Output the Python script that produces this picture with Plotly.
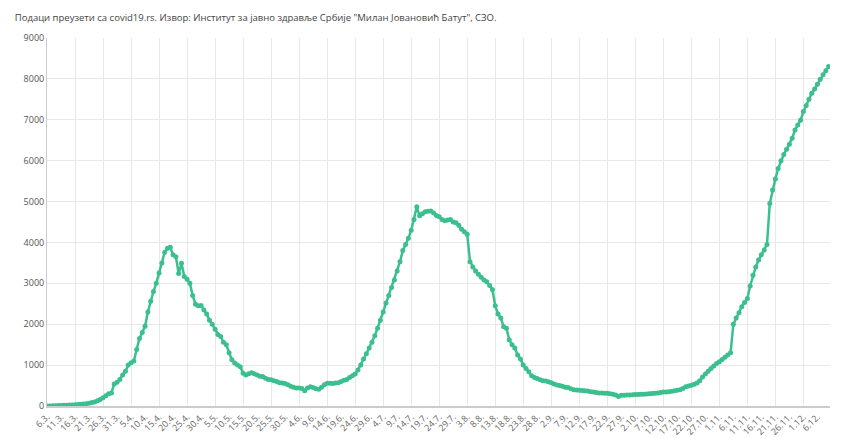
import plotly.graph_objects as go
import pandas as pd

start_date = "2020-03-06"
values = [
0,2,5,8,12,15,18,20,22,25,
30,35,40,48,55,70,85,100,130,160,
200,250,300,320,540,580,650,760,850,1000,
1060,1100,1380,1650,1800,1950,2300,2560,2800,3000,
3250,3500,3760,3860,3880,3700,3650,3240,3490,3170,
3100,3000,2700,2490,2450,2460,2350,2250,2100,2000,
1880,1750,1700,1560,1500,1300,1130,1050,1000,960,
800,760,790,815,790,760,730,720,680,650,
640,620,600,570,560,550,520,480,460,440,
440,430,370,440,470,450,420,410,460,520,
555,555,550,560,570,600,630,650,700,740,
780,880,1000,1150,1280,1420,1560,1720,1900,2100,
2300,2520,2700,2900,3080,3300,3530,3800,3950,4100,
4300,4560,4870,4650,4700,4750,4760,4770,4720,4660,
4630,4560,4530,4550,4560,4500,4480,4420,4320,4260,
4200,3530,3400,3300,3220,3150,3080,3040,2950,2850,
2450,2250,2150,1940,1900,1620,1500,1420,1250,1150,
1000,920,840,740,700,670,640,620,610,595,
570,540,515,500,480,460,450,420,400,390,
385,380,370,365,350,340,330,320,315,310,
310,300,290,270,230,260,265,270,270,275,
280,280,285,290,295,300,305,310,320,330,
340,345,350,360,375,385,400,430,470,490,
510,530,560,620,710,780,850,920,980,1040,
1080,1140,1190,1250,1300,2000,2150,2280,2430,2530,
2630,2935,3200,3400,3570,3700,3815,3950,4955,5280,
5550,5810,6000,6150,6280,6400,6550,6750,6870,6990,
7200,7350,7500,7650,7750,7870,7990,8100,8200,8300,
]
dates = pd.date_range(start_date, periods=len(values), freq="D")
labels = [f"{d.day}.{d.month}." for d in dates]
idx = list(range(len(values)))
tick_idx = idx[::5]
tick_text = [labels[i] for i in tick_idx]
grid_idx = idx[::10]

green = "#3cbf8f"
fig = go.Figure()
fig.add_trace(go.Scatter(x=idx, y=values, mode="lines+markers",
    line=dict(color=green, width=2.5), marker=dict(color=green, size=5),
    text=labels, hovertemplate="%{text}: %{y}<extra></extra>", showlegend=False))
fig.add_trace(go.Scatter(x=idx, y=values, xaxis="x2", mode="lines",
    line=dict(width=0), hoverinfo="skip", showlegend=False))

rng = [0, len(values) - 0.5]
fig.update_layout(
    width=850, height=438, margin=dict(l=39, r=28, t=30, b=40),
    paper_bgcolor="white", plot_bgcolor="white",
    font=dict(family="Open Sans, sans-serif", color="#555"),
    title=dict(text="Подаци преузети са covid19.rs. Извор: Институт за јавно здравље Србије \"Милан Јовановић Батут\", СЗО.",
               x=0.008, xanchor="left", y=0.985, yanchor="top", font=dict(size=9.5, color="#444")),
    xaxis=dict(range=rng, tickmode="array", tickvals=tick_idx, ticktext=tick_text,
               tickangle=-45, tickfont=dict(size=9, color="#666"), showgrid=False, automargin=False,
               showline=True, linecolor="#ccc", linewidth=2, zeroline=False, ticks=""),
    xaxis2=dict(range=rng, overlaying="x", tickmode="array", tickvals=grid_idx, automargin=False,
                showticklabels=False, showgrid=True, gridcolor="#e8e8e8", zeroline=False),
    yaxis=dict(range=[0, 9000], dtick=1000, showgrid=True, gridcolor="#e8e8e8", automargin=False,
               tickfont=dict(size=9, color="#555"), showline=True, linecolor="#ccc",
               zeroline=False, ticks=""),
)
fig.data[1].update(yaxis="y")
fig.write_html("out.html")
